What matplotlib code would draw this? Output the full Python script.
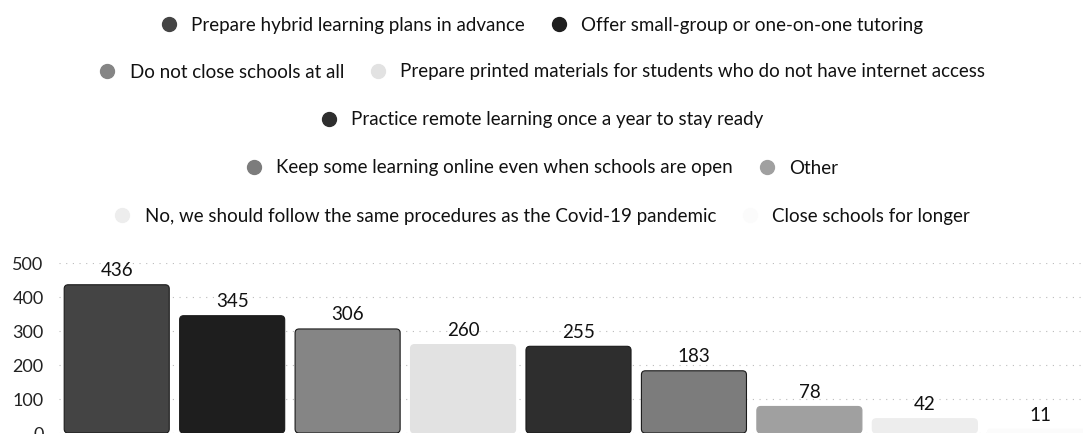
import matplotlib
matplotlib.use("Agg")
import matplotlib.pyplot as plt
from matplotlib.lines import Line2D
from matplotlib.patches import FancyBboxPatch

plt.rcParams['font.family'] = ['Lato', 'DejaVu Sans']

categories = [
    "Prepare hybrid learning plans in advance",
    "Offer small-group or one-on-one tutoring",
    "Do not close schools at all",
    "Prepare printed materials for students who do not have internet access",
    "Practice remote learning once a year to stay ready",
    "Keep some learning online even when schools are open",
    "Other",
    "No, we should follow the same procedures as the Covid-19 pandemic",
    "Close schools for longer",
]
values = [436, 345, 306, 260, 255, 183, 78, 42, 11]
colors = ["#444444", "#1e1e1e", "#858585", "#e2e2e2", "#2e2e2e",
          "#7c7c7c", "#a0a0a0", "#ededed", "#fbfbfb"]
legend_rows = [[0, 1], [2, 3], [4], [5, 6], [7, 8]]
yticks = [0, 100, 200, 300, 400, 500]

W, H = 1083, 434
fig = plt.figure(figsize=(W / 100, H / 100), dpi=100)
left, right, bottom, top = 59, 1098, 433, 263
ax = fig.add_axes([left / W, (H - bottom) / H, (right - left) / W, (bottom - top) / H])

x = list(range(len(values)))
bars = ax.bar(x, values, width=0.91, color=colors, linewidth=0)
ax.set_xlim(-0.5, len(values) - 0.5)
ax.set_ylim(0, 500)

px_per_x = (right - left) / len(values)
px_per_y = (bottom - top) / 500
r_px = 4
for b, c in zip(bars, colors):
    bx, by, bw, bh = b.get_x(), b.get_y(), b.get_width(), b.get_height()
    b.set_visible(False)
    aspect = px_per_x / px_per_y
    rs = min(r_px / px_per_x, bw / 2, bh / aspect / 2)
    p = FancyBboxPatch((bx, by), bw, bh,
                       boxstyle=f"round,pad=0,rounding_size={rs}",
                       mutation_aspect=aspect, facecolor=c,
                       edgecolor="#1a1a1a" if c < "#999999" else c, linewidth=0.8,
                       zorder=2)
    ax.add_patch(p)

ax.set_yticks(yticks)
ax.set_yticklabels([str(t) for t in yticks], fontsize=13, color="#222222")
ax.tick_params(axis='y', length=0, pad=11)
ax.tick_params(axis='x', length=0, labelbottom=False)
for s in ax.spines.values():
    s.set_visible(False)
ax.grid(axis='y', color="#bbbbbb", linestyle=(0, (1, 5)), linewidth=0.8)
ax.set_axisbelow(True)

for b, v in zip(bars, values):
    ax.annotate(str(v), (b.get_x() + b.get_width() / 2, v), xytext=(0, 4),
                textcoords="offset points", ha="center", va="bottom",
                fontsize=13.5, color="#111111")

row_y = [25, 72, 120, 168, 216]
for row, yy in zip(legend_rows, row_y):
    handles = [Line2D([], [], marker='o', linestyle='none', markersize=10,
                      markerfacecolor=colors[i], markeredgecolor=colors[i])
               for i in row]
    labels = [categories[i] for i in row]
    fig.legend(handles, labels, loc='center', bbox_to_anchor=(0.5, 1 - yy / H),
               ncol=len(row), frameon=False, fontsize=13.5, handletextpad=0.7,
               columnspacing=1.3, handlelength=1.0, borderpad=0,
               labelcolor="#111111")

fig.savefig("out.png", dpi=100)
